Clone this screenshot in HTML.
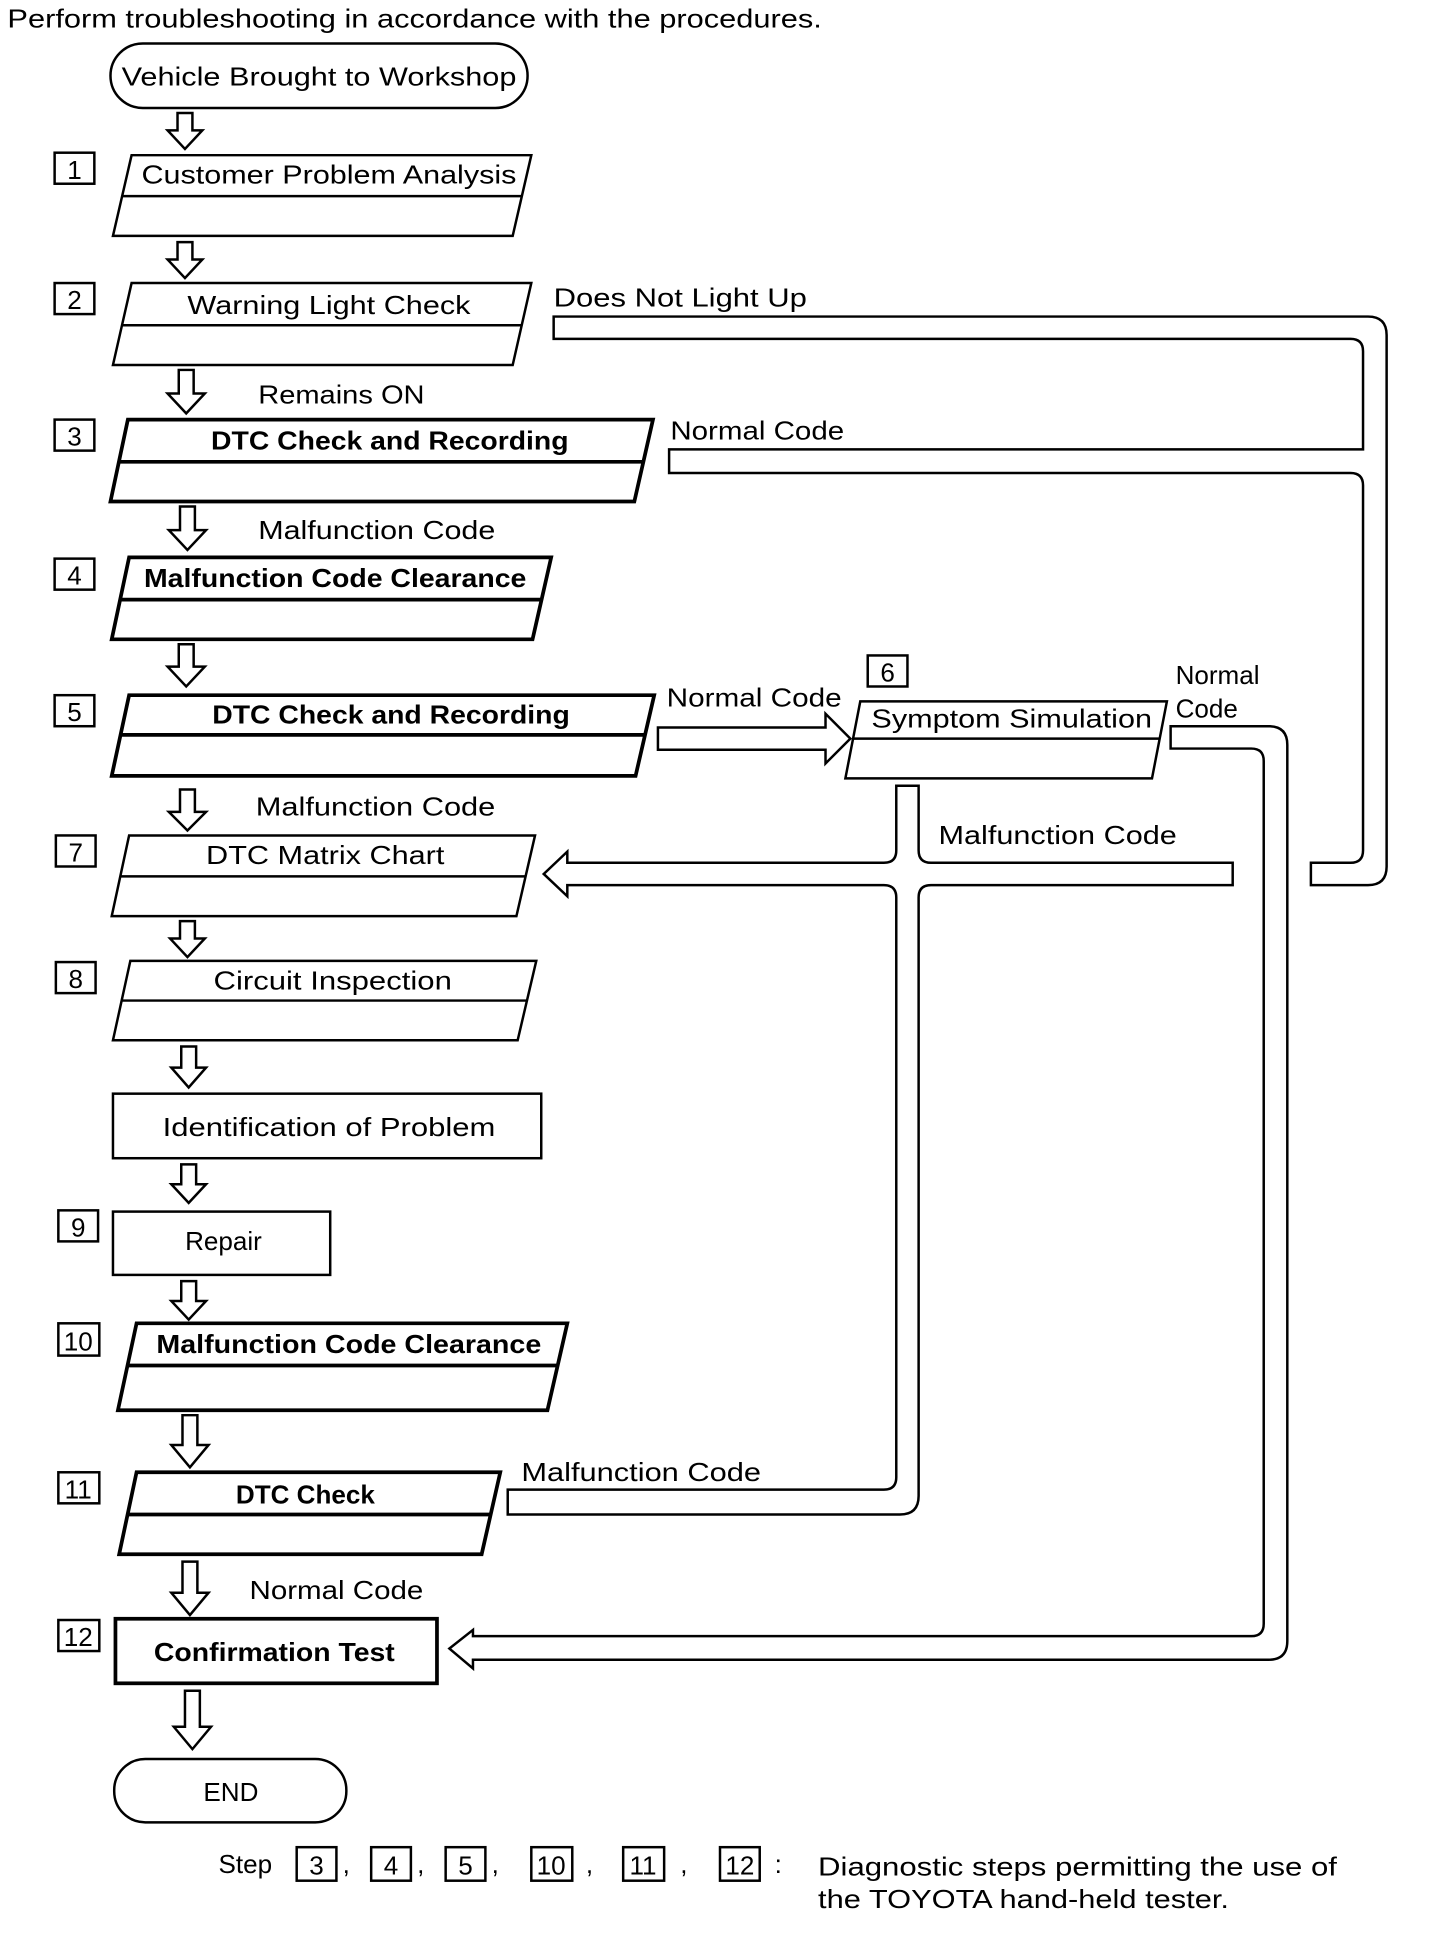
<!DOCTYPE html>
<html><head><meta charset="utf-8"><style>html,body{margin:0;padding:0;background:#fff}svg{display:block}text{font-family:"Liberation Sans",sans-serif;font-size:21px;fill:#000}.b{font-weight:bold}</style></head><body>
<svg width="1440" height="1946" viewBox="0 0 1160 1567.6" xmlns="http://www.w3.org/2000/svg">
<defs>
<g id="da"><path d="M-6,0 H6 V16 H14 L0,30 L-14,16 H-6 Z" fill="#fff" stroke="#000" stroke-width="2"/></g>
</defs>
<g fill="none" stroke="#000" stroke-width="2">
<text x="6" y="22" textLength="656" lengthAdjust="spacingAndGlyphs" stroke="none">Perform troubleshooting in accordance with the procedures.</text>
<rect x="89" y="35" width="336" height="52" rx="26"/>
<path d="M106,125 H428 L413,190 H91 Z M98,158 H420"/>
<path d="M106,228 H428 L413,294 H91 Z M98,262 H420"/>
<path stroke-width="3" d="M103,338 H526 L511,404 H89 Z M96,372 H518"/>
<path stroke-width="3" d="M104,449 H444 L429,515 H90 Z M97,483 H436"/>
<path stroke-width="3" d="M104,560 H527 L512,625 H90 Z M97,592 H519"/>
<path d="M693,565 H940 L928,627 H681 Z M687,595 H934"/>
<path d="M104,673 H431 L416,738 H90 Z M97,706 H423"/>
<path d="M105,774 H432 L417,838 H91 Z M98,806 H424"/>
<rect x="91" y="881" width="345" height="52"/>
<rect x="91" y="976" width="175" height="51"/>
<path stroke-width="3" d="M110,1066 H457 L441,1136 H95 Z M103,1100 H449"/>
<path stroke-width="3" d="M110,1186 H403 L388,1252 H96 Z M103,1220 H395"/>
<rect x="93" y="1304" width="259" height="52" stroke-width="3"/>
<rect x="92" y="1417" width="187" height="51" rx="25"/>
<rect x="44" y="123" width="32" height="25"/>
<rect x="44" y="228" width="32" height="25"/>
<rect x="44" y="338" width="32" height="25"/>
<rect x="44" y="450" width="32" height="25"/>
<rect x="44" y="560" width="32" height="25"/>
<rect x="699" y="528" width="32" height="25"/>
<rect x="45" y="673" width="32" height="25"/>
<rect x="45" y="775" width="32" height="25"/>
<rect x="47" y="975" width="32" height="25"/>
<rect x="47" y="1066" width="33" height="26"/>
<rect x="47" y="1186" width="33" height="25"/>
<rect x="47" y="1305" width="33" height="25"/>
<path d="M446,255 H1102 Q1117,255 1117,270 V698 Q1117,713 1102,713 H1056 V695 H1088 Q1098,695 1098,685 V391 Q1098,381 1088,381 H539 V362 H1098 V283 Q1098,273 1088,273 H446 Z" fill="#fff"/>
<path d="M943,585 H1022 Q1037,585 1037,600 V1322 Q1037,1337 1022,1337 H381 V1344 L362,1328 L381,1313 V1318 H1008 Q1018,1318 1018,1308 V613 Q1018,603 1008,603 H943 Z" fill="#fff"/>
<path d="M722,633 H740 V685 Q740,695 750,695 H993 V713 H750 Q740,713 740,723 V1205 Q740,1220 725,1220 H409 V1200 H712 Q722,1200 722,1190 V723 Q722,713 712,713 H457 V722 L438,704 L457,686 V695 H712 Q722,695 722,685 Z" fill="#fff"/>
<path d="M722,695 V713 M740,695 V713" stroke="#fff" stroke-width="3"/>
<path d="M530,586 H665 V575 L685,595 L665,615 V604 H530 Z" fill="#fff"/>
<!-- down arrows -->
<g fill="#fff">
<path d="M143,91 H155 V105 H163 L149,120 L135,105 H143 Z"/>
<path d="M143,195 H155 V209 H163 L149,224 L135,209 H143 Z"/>
<path d="M144,298 H156 V317 H165 L150,333 L135,317 H144 Z"/>
<path d="M145,408 H157 V427 H166 L151,443 L136,427 H145 Z"/>
<path d="M144,519 H156 V537 H165 L150,553 L135,537 H144 Z"/>
<path d="M145,636 H157 V654 H166 L151,669 L136,654 H145 Z"/>
<path d="M145,742 H157 V756 H165 L151,771 L137,756 H145 Z"/>
<path d="M146,843 H158 V860 H166 L152,876 L138,860 H146 Z"/>
<path d="M146,938 H158 V954 H166 L152,969 L138,954 H146 Z"/>
<path d="M146,1032 H158 V1048 H166 L152,1063 L138,1048 H146 Z"/>
<path d="M147,1140 H159 V1164 H168 L153,1182 L138,1164 H147 Z"/>
<path d="M147,1258 H159 V1283 H168 L153,1301 L138,1283 H147 Z"/>
<path d="M149,1362 H161 V1391 H170 L155,1409 L140,1391 H149 Z"/>
</g>
</g>
<text x="257" y="69" text-anchor="middle" textLength="318" lengthAdjust="spacingAndGlyphs">Vehicle Brought to Workshop</text>
<text x="265" y="148" text-anchor="middle" textLength="302" lengthAdjust="spacingAndGlyphs">Customer Problem Analysis</text>
<text x="265" y="253" text-anchor="middle" textLength="228" lengthAdjust="spacingAndGlyphs">Warning Light Check</text>
<text x="446" y="247" textLength="204" lengthAdjust="spacingAndGlyphs">Does Not Light Up</text>
<text x="208" y="325" textLength="134" lengthAdjust="spacingAndGlyphs">Remains ON</text>
<text class="b" x="314" y="362" text-anchor="middle" textLength="288" lengthAdjust="spacingAndGlyphs">DTC Check and Recording</text>
<text x="540" y="354" textLength="140" lengthAdjust="spacingAndGlyphs">Normal Code</text>
<text x="208" y="434" textLength="191" lengthAdjust="spacingAndGlyphs">Malfunction Code</text>
<text class="b" x="270" y="473" text-anchor="middle" textLength="308" lengthAdjust="spacingAndGlyphs">Malfunction Code Clearance</text>
<text class="b" x="315" y="583" text-anchor="middle" textLength="288" lengthAdjust="spacingAndGlyphs">DTC Check and Recording</text>
<text x="537" y="569" textLength="141" lengthAdjust="spacingAndGlyphs">Normal Code</text>
<text x="815" y="586" text-anchor="middle" textLength="226" lengthAdjust="spacingAndGlyphs">Symptom Simulation</text>
<text x="947" y="551">Normal</text>
<text x="947" y="578">Code</text>
<text x="206" y="657" textLength="193" lengthAdjust="spacingAndGlyphs">Malfunction Code</text>
<text x="756" y="680" textLength="192" lengthAdjust="spacingAndGlyphs">Malfunction Code</text>
<text x="262" y="696" text-anchor="middle" textLength="192" lengthAdjust="spacingAndGlyphs">DTC Matrix Chart</text>
<text x="268" y="797" text-anchor="middle" textLength="192" lengthAdjust="spacingAndGlyphs">Circuit Inspection</text>
<text x="265" y="915" text-anchor="middle" textLength="268" lengthAdjust="spacingAndGlyphs">Identification of Problem</text>
<text x="180" y="1007" text-anchor="middle">Repair</text>
<text class="b" x="281" y="1090" text-anchor="middle" textLength="310" lengthAdjust="spacingAndGlyphs">Malfunction Code Clearance</text>
<text x="420" y="1193" textLength="193" lengthAdjust="spacingAndGlyphs">Malfunction Code</text>
<text class="b" x="246" y="1211" text-anchor="middle">DTC Check</text>
<text x="201" y="1288" textLength="140" lengthAdjust="spacingAndGlyphs">Normal Code</text>
<text class="b" x="221" y="1338" text-anchor="middle" textLength="194" lengthAdjust="spacingAndGlyphs">Confirmation Test</text>
<text x="186" y="1451" text-anchor="middle">END</text>
<g style="font-size:23px">
<text x="60" y="144" text-anchor="middle">1</text>
<text x="60" y="249" text-anchor="middle">2</text>
<text x="60" y="359" text-anchor="middle">3</text>
<text x="60" y="471" text-anchor="middle">4</text>
<text x="60" y="581" text-anchor="middle">5</text>
<text x="715" y="549" text-anchor="middle">6</text>
<text x="61" y="694" text-anchor="middle">7</text>
<text x="61" y="796" text-anchor="middle">8</text>
<text x="63" y="996" text-anchor="middle">9</text>
<text x="63" y="1088" text-anchor="middle">10</text>
<text x="63" y="1207" text-anchor="middle">11</text>
<text x="63" y="1326" text-anchor="middle">12</text>
</g>
<g fill="none" stroke="#000" stroke-width="2">
<rect x="239" y="1488" width="32" height="27"/><rect x="299" y="1488" width="32" height="27"/><rect x="359" y="1488" width="32" height="27"/>
<rect x="428" y="1488" width="33" height="27"/><rect x="502" y="1488" width="33" height="27"/><rect x="580" y="1488" width="32" height="27"/>
</g>
<text x="176" y="1509">Step</text>
<g style="font-size:23px">
<text x="255" y="1510" text-anchor="middle">3</text>
<text x="315" y="1510" text-anchor="middle">4</text>
<text x="375" y="1510" text-anchor="middle">5</text>
<text x="444" y="1510" text-anchor="middle">10</text>
<text x="518" y="1510" text-anchor="middle">11</text>
<text x="596" y="1510" text-anchor="middle">12</text>
</g>
<text x="276" y="1509">,</text><text x="336" y="1509">,</text><text x="396" y="1509">,</text><text x="472" y="1509">,</text><text x="548" y="1509">,</text><text x="624" y="1509">:</text>
<text x="659" y="1511" textLength="418" lengthAdjust="spacingAndGlyphs">Diagnostic steps permitting the use of</text>
<text x="659" y="1537" textLength="331" lengthAdjust="spacingAndGlyphs">the TOYOTA hand-held tester.</text>
</svg>
</body></html>
